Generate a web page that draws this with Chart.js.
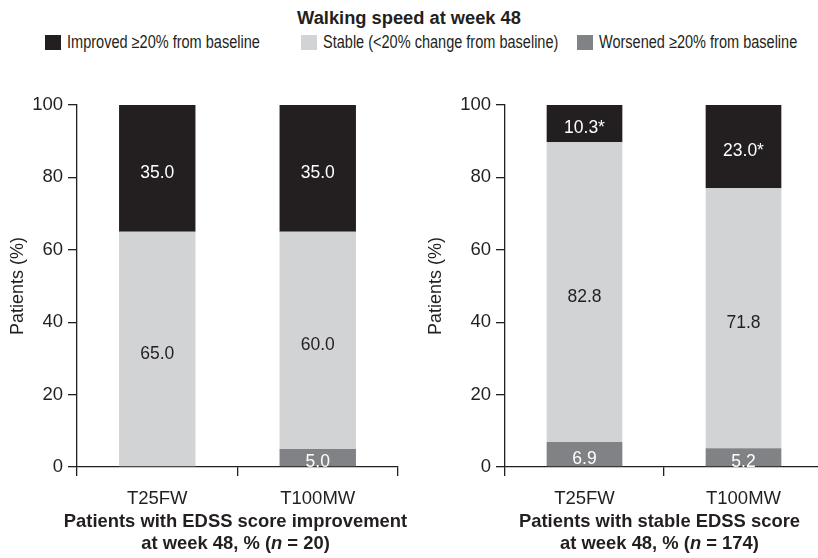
<!DOCTYPE html>
<html>
<head>
<meta charset="utf-8">
<script src="https://cdn.jsdelivr.net/npm/chart.js@4/dist/chart.umd.min.js"></script>
<style>
  body { margin: 0; width: 818px; height: 558px; overflow: hidden; background: #fff; position: relative;
         font-family: "Liberation Sans", Arial, sans-serif; color: #231f20; }
  #title { position: absolute; top: 7px; left: 0; width: 818px; text-align: center; font-weight: bold; font-size: 18.3px; }
  .leg { position: absolute; top: 35px; height: 15px; display: flex; align-items: center; font-size: 17.5px; white-space: nowrap; }
  .leg span.box { width: 16px; height: 15px; display: inline-block; margin-right: 6px; }
  .leg span.txt { display: inline-block; transform: scaleX(0.83); transform-origin: left center; }
  .xt { position: absolute; top: 510px; width: 409px; text-align: center; font-weight: bold; font-size: 18.4px; line-height: 22px; }
  canvas { position: absolute; top: 0; }
</style>
</head>
<body>
<div id="title">Walking speed at week 48</div>
<div class="leg" style="left:45px"><span class="box" style="background:#231f20"></span><span class="txt">Improved ≥20% from baseline</span></div>
<div class="leg" style="left:301px"><span class="box" style="background:#d1d3d4"></span><span class="txt">Stable (&lt;20% change from baseline)</span></div>
<div class="leg" style="left:577px"><span class="box" style="background:#808285"></span><span class="txt">Worsened ≥20% from baseline</span></div>

<div style="position:absolute;left:0;top:0;width:409px;height:558px"><canvas id="leftChart"></canvas></div>
<div style="position:absolute;left:409px;top:0;width:414px;height:558px"><canvas id="rightChart"></canvas></div>

<div class="xt" style="left:31px">Patients with EDSS score improvement<br>at week 48, % (<i>n</i> = 20)</div>
<div class="xt" style="left:455px">Patients with stable EDSS score<br>at week 48, % (<i>n</i> = 174)</div>

<script>
// values (percent of patients)
const categories = ['T25FW', 'T100MW'];
const yTicks = [0, 20, 40, 60, 80, 100];

const leftImproved = [35.0, 35.0];
const leftStable = [65.0, 60.0];
const leftWorsened = [0, 5.0];

const rightImproved = [10.3, 23.0];
const rightStable = [82.8, 71.8];
const rightWorsened = [6.9, 5.2];
const rightImprovedMark = ['*', '*'];   // significance markers

const dark = '#231f20';
const light = '#d1d3d4';
const mid = '#808285';
const fontFamily = '"Liberation Sans", Arial, sans-serif';

// draws the value inside each bar segment
const segmentLabels = {
  id: 'segmentLabels',
  afterDatasetsDraw(chart) {
    const ctx = chart.ctx;
    ctx.save();
    ctx.font = '17.5px ' + fontFamily;
    ctx.textAlign = 'center';
    ctx.textBaseline = 'middle';
    chart.data.datasets.forEach((ds, i) => {
      const meta = chart.getDatasetMeta(i);
      meta.data.forEach((bar, j) => {
        const v = ds.data[j];
        if (!v) return;
        const mark = ds.marks ? ds.marks[j] : '';
        ctx.fillStyle = ds.labelColor;
        ctx.fillText(v.toFixed(1) + mark, bar.x, (bar.y + bar.base) / 2 + 5);
      });
    });
    ctx.restore();
  }
};

function makeChart(id, worsened, stable, improved, marks, padLeft, yWidth, padRight) {
  const ctx = document.getElementById(id).getContext('2d');
  return new Chart(ctx, {
    type: 'bar',
    data: {
      labels: categories,
      datasets: [
        { label: 'Worsened', data: worsened, backgroundColor: mid, labelColor: '#ffffff' },
        { label: 'Stable', data: stable, backgroundColor: light, labelColor: dark },
        { label: 'Improved', data: improved, backgroundColor: dark, labelColor: '#ffffff', marks: marks },
      ],
    },
    options: {
      responsive: true,
      maintainAspectRatio: false,
      animation: false,
      datasets: { bar: { categoryPercentage: 1, barPercentage: 0.476 } },
      layout: { padding: { top: 105, left: padLeft, right: padRight, bottom: 0 } },
      plugins: { legend: { display: false }, tooltip: { enabled: false } },
      scales: {
        x: {
          stacked: true,
          grid: { drawOnChartArea: false, offset: true, tickLength: 9, color: dark, lineWidth: 1.3 },
          border: { color: dark, width: 1.3 },
          ticks: { color: dark, padding: 12, font: { family: fontFamily, size: 18.5 } },
          afterFit(scale) { scale.height = 558 - 467; },
        },
        y: {
          stacked: true,
          min: 0,
          max: 100,
          afterBuildTicks(scale) { scale.ticks = yTicks.map(v => ({ value: v })); },
          grid: { drawOnChartArea: false, tickLength: 9, color: dark, lineWidth: 1.3 },
          border: { color: dark, width: 1.3 },
          ticks: { color: dark, padding: 5, font: { family: fontFamily, size: 18.5 } },
          title: { display: true, text: 'Patients (%)', color: dark, padding: 0, font: { family: fontFamily, size: 18 } },
          afterFit(scale) { scale.width = yWidth; },
        },
      },
    },
    plugins: [segmentLabels],
  });
}

makeChart('leftChart', leftWorsened, leftStable, leftImproved, null, 7, 70, 11);
makeChart('rightChart', rightWorsened, rightStable, rightImproved, rightImprovedMark, 16, 80, 0);
</script>
</body>
</html>
